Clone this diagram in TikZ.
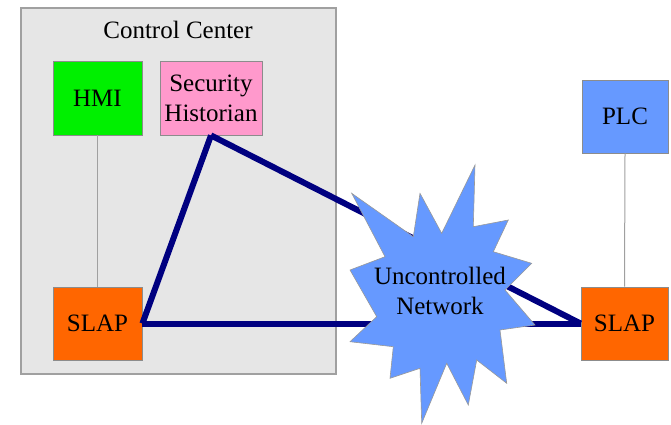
\documentclass[tikz,border=0pt]{standalone}
\usepackage{fontspec}
\setmainfont{Liberation Serif}
\definecolor{ccfill}{RGB}{230,230,230}
\definecolor{ccedge}{RGB}{160,160,160}
\definecolor{hmigreen}{RGB}{0,240,0}
\definecolor{histpink}{RGB}{255,153,204}
\definecolor{slaporange}{RGB}{255,102,0}
\definecolor{plcblue}{RGB}{102,153,255}
\definecolor{linknavy}{RGB}{0,0,128}
\begin{document}
\begin{tikzpicture}[x=1pt,y=-1pt,
  every node/.style={font=\fontsize{25}{30}\selectfont, inner sep=0pt, align=center},
  devbox/.style={draw=black!45, line width=0.8pt, minimum width=#1},
  devbox/.default=89pt,
  secure/.style={line width=6pt, draw=linknavy, line join=round},
  wire/.style={draw=ccedge, line width=1pt}]
\useasboundingbox (0,0) rectangle (671,424);
% control center enclosure
\draw[fill=ccfill, draw=ccedge, line width=1.2pt] (21,8) rectangle (336,374);
\node (cclabel) at (178,30) {Control Center};
% devices
\node[devbox, fill=hmigreen, minimum height=74pt] (hmi) at (97.5,98) {HMI};
\node[devbox=102pt, fill=histpink, minimum height=74pt] (sh) at (211,98) {Security\\Historian};
\node[devbox, fill=slaporange, minimum height=73pt] (slapL) at (97.5,323.5) {SLAP};
\node[devbox=86pt, fill=plcblue, minimum height=73pt] (plc) at (625,116.5) {PLC};
\node[devbox=87pt, fill=slaporange, minimum height=73pt] (slapR) at (624.5,323.5) {SLAP};
% plain links
\draw[wire] (hmi.south) -- (slapL.north);
\draw[wire] (plc.south) -- (slapR.north);
% protected links
\draw[secure] (sh.south) -- (slapL.east);
\draw[secure] (slapL.east) -- (slapR.west);
\draw[secure] (sh.south) -- (slapR.west);
% uncontrolled network burst
\draw[fill=plcblue, draw=black!40, line width=0.6pt]
  (351.7,193.3) -- (413.3,236.7) -- (420,193.3) -- (441.7,233.3) -- (475,165)
  -- (473.3,226.7) -- (508.3,220) -- (493.3,251.7) -- (531.7,263.3) -- (505,290)
  -- (535,325) -- (500,330) -- (506.7,383.3) -- (476.7,360) -- (468.3,405)
  -- (446.7,363.3) -- (421.7,423.3) -- (420,368.3) -- (390,378.3) -- (393.3,346.7)
  -- (350,341.7) -- (376.7,316.7) -- (350,270) -- (385,256.7) -- cycle;
\node (net) at (440,291) {Uncontrolled\\Network};
\end{tikzpicture}
\end{document}
